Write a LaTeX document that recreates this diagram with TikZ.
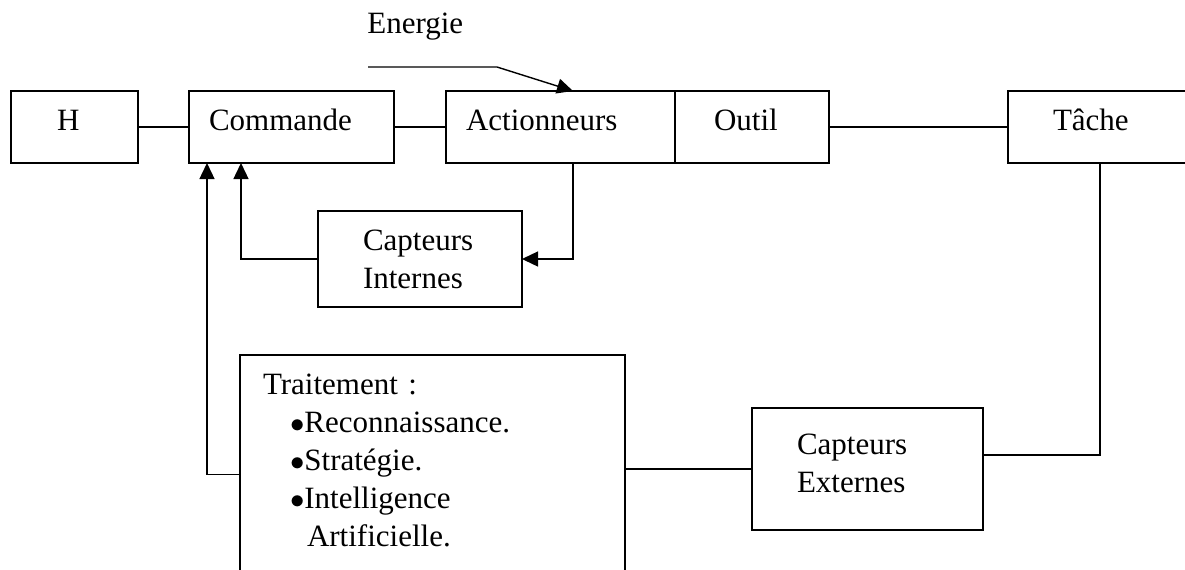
\documentclass[tikz,border=0pt]{standalone}
\usepackage{fontspec}
\setmainfont{Liberation Serif}
\usepackage{tikz}
\usetikzlibrary{arrows.meta, positioning}
\newcommand{\boxfont}{\fontsize{15.5pt}{19pt}\selectfont}
\newcommand{\itembul}{\hspace*{13.5pt}$\bullet$}
\tikzset{
  block/.style={rectangle, draw=black, anchor=north west, align=left,
    inner ysep=0pt, outer sep=0pt, text height=19.5pt, text depth=16.5pt,
    font=\boxfont, line width=0.7pt},
  arrow/.style={-{Triangle[length=8pt, width=7.5pt]}, line width=0.7pt, color=black},
  line/.style={line width=0.7pt, color=black}
}

\begin{document}
\begin{tikzpicture}[x=0.5pt, y=-0.5pt]
  \useasboundingbox (0,0) rectangle (1185,569);

  % Top row
  \node[block, text width=17.5pt, inner xsep=23pt] (H) at (11,91) {H};
  \node[block, text width=82.5pt, inner xsep=10pt] (commande) at (189,91) {Commande};
  \node[block, text width=94.5pt, inner xsep=10pt] (actionneurs) at (446,91) {Actionneurs};
  \node[block, text width=38pt, inner xsep=19.5pt] (outil) at (actionneurs.north east) {Outil};
  \node[block, text width=46pt, inner xsep=22.5pt] (tache) at (1008,91) {Tâche};

  % Sensors and processing
  \node[block, text width=57pt, inner xsep=22.5pt, text depth=28.5pt] (capint) at (318,211) {Capteurs\\Internes};
  \node[block, text width=70.5pt, inner xsep=22.5pt, text height=23pt, text depth=38pt] (capext) at (752,408) {Capteurs\\Externes};
  \node[block, text width=169.5pt, inner xsep=11.5pt, text depth=100pt] (traitement) at (240,355)
    {Traitement :\\
     \itembul Reconnaissance.\\
     \itembul Stratégie.\\
     \itembul Intelligence\\
     \hspace*{22pt}Artificielle.};

  % Energy input
  \node[anchor=base west, inner sep=0pt, font=\boxfont] (energie) at (367,33) {Energie};
  \coordinate (en0) at (368,67);
  \coordinate (en1) at (497,67);

  % Helper abscissae
  \coordinate (actx) at (573,0);
  \coordinate (fb1) at (207,0);
  \coordinate (fb2) at (241,0);
  \coordinate (tachex) at (1100,0);
  \coordinate (extr) at (0,455);

  % Connectors
  \draw[line] (H.east) -- (commande.west);
  \draw[line] (commande.east) -- (actionneurs.west);
  \draw[line] (outil.east) -- (tache.west);
  \draw[arrow] (en0) -- (en1) -- (actx |- actionneurs.north);
  \draw[arrow] (actx |- actionneurs.south) |- (capint.east);
  \draw[arrow] (capint.west) -| (fb2 |- commande.south);
  \draw[arrow] (traitement.west) -| (fb1 |- commande.south);
  \draw[line] (traitement.east |- capext.west) -- (capext.west);
  \draw[line] (capext.east |- extr) -| (tachex |- tache.south);
\end{tikzpicture}
\end{document}
